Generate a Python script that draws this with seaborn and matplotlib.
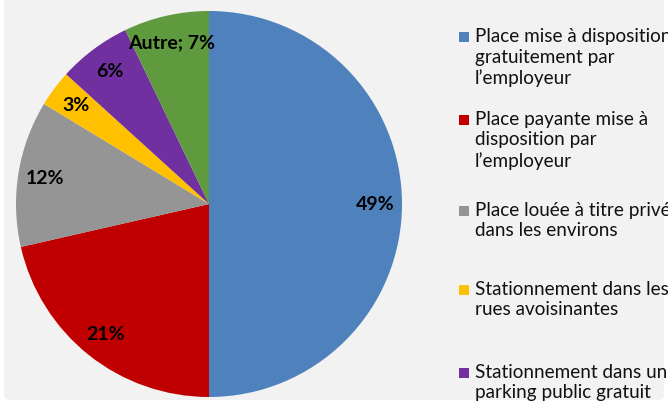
"""Pie chart: type de stationnement utilisé"""

import matplotlib
matplotlib.use("Agg")
import matplotlib.pyplot as plt
from matplotlib.patches import Rectangle, FancyBboxPatch
import seaborn as sns

categories = [
    "Place mise à disposition\ngratuitement par\nl’employeur",
    "Place payante mise à\ndisposition par\nl’employeur",
    "Place louée à titre privé\ndans les environs",
    "Stationnement dans les\nrues avoisinantes",
    "Stationnement dans un\nparking public gratuit",
    "Autre",
]
values = [49, 21, 12, 3, 6, 7]
slice_colors = ["#4f81bd", "#c00000", "#959595", "#ffc000", "#7030a0", "#5f9a3f"]

sns.set_style("white")
plt.rcParams["font.family"] = ["Lato", "DejaVu Sans"]

W, H = 668, 406
fig = plt.figure(figsize=(W / 100, H / 100), dpi=100, facecolor="white")

# chart area background, rounded at the bottom corners
fig.patches.append(FancyBboxPatch((0.006, 0.012), 0.988, 1.2,
                                  boxstyle="round,pad=0,rounding_size=0.012",
                                  transform=fig.transFigure, fc="#f2f2f2", ec="none",
                                  zorder=-10))

# pie: center (209, 205) px from top, radius 193 px
r_px = 193
ax = fig.add_axes([(209 - r_px) / W, (H - 205 - r_px) / H, 2 * r_px / W, 2 * r_px / H])
ax.set_facecolor("none")
palette = sns.color_palette(slice_colors)

pie_labels = [f"{v}%" if c != "Autre" else f"{c}; {v}%" for c, v in zip(categories, values)]
wedges, _, autotexts = ax.pie(values, colors=palette, startangle=90, counterclock=False,
                              autopct=lambda p: "", pctdistance=0.86,
                              wedgeprops=dict(linewidth=0))
for t, lab in zip(autotexts, pie_labels):
    t.set_text(lab)
    t.set_fontsize(14)
    t.set_fontweight("bold")
    t.set_color("black")
ax.set_xlim(-1, 1)
ax.set_ylim(-1, 1)
ax.set_aspect("equal")
ax.axis("off")

# legend (Excel style, right side, runs off the chart area; "Autre" falls below it)
legend_y = [38, 121, 212, 291, 374]
for cat, col, y in zip(categories, palette, legend_y):
    fig.patches.append(Rectangle((459 / W, 1 - (y + 5) / H), 10 / W, 10 / H,
                                 transform=fig.transFigure, fc=col, ec="none"))
    fig.text(475 / W, 1 - (y - 10) / H, cat, fontsize=13.6, va="top", ha="left",
             color="#111111", linespacing=1.25)

fig.savefig("out.png", dpi=100, facecolor=fig.get_facecolor())
